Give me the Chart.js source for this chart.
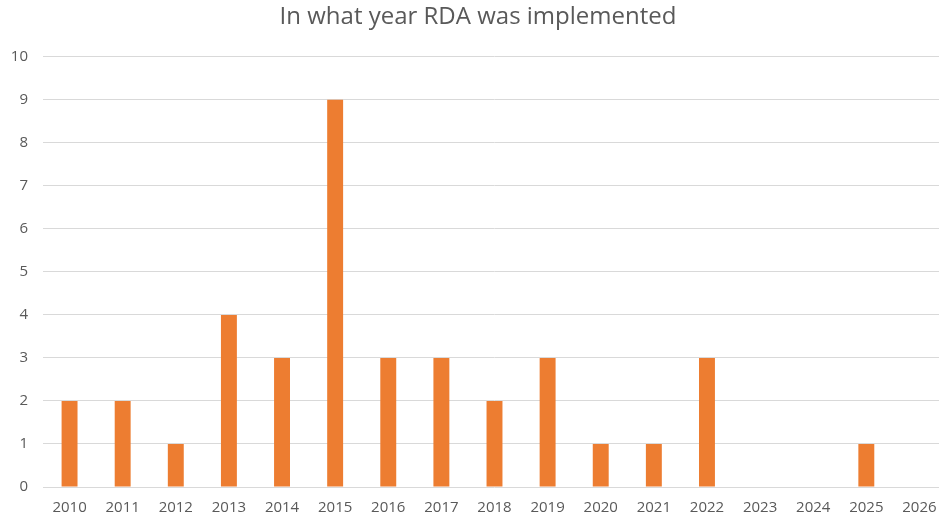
<!DOCTYPE html>
<html>
<head>
<meta charset="utf-8">
<script src="https://cdn.jsdelivr.net/npm/chart.js@4/dist/chart.umd.min.js"></script>
<style>
  html, body { margin: 0; padding: 0; background: #fff; overflow: hidden; }
</style>
</head>
<body>
<canvas id="barChart" width="970" height="521"></canvas>
<script>
const years = ['2010', '2011', '2012', '2013', '2014', '2015', '2016', '2017', '2018',
  '2019', '2020', '2021', '2022', '2023', '2024', '2025', '2026'];
const counts = [2, 2, 1, 4, 3, 9, 3, 3, 2, 3, 1, 1, 3, 0, 0, 1, 0];
const yMax = 10;

const textColor = '#595959';
const fontFamily = "'Open Sans', 'Liberation Sans', sans-serif";

const ctx = document.getElementById('barChart').getContext('2d');
new Chart(ctx, {
  type: 'bar',
  data: {
    labels: years,
    datasets: [{
      label: 'Count',
      data: counts,
      backgroundColor: '#ED7D31',
      barPercentage: 0.3,
      categoryPercentage: 1
    }]
  },
  options: {
    responsive: false,
    animation: false,
    layout: { padding: { left: 10, right: 24, top: 0, bottom: 0 } },
    plugins: {
      legend: { display: false },
      tooltip: { enabled: false },
      title: {
        display: true,
        text: 'In what year RDA was implemented',
        color: textColor,
        font: { family: fontFamily, size: 24, weight: 'normal' },
        padding: { top: 3, bottom: 25 }
      }
    },
    scales: {
      x: {
        grid: { display: false },
        border: { display: false },
        ticks: {
          color: textColor,
          font: { family: fontFamily, size: 15 },
          padding: 4,
          maxRotation: 0,
          autoSkip: false
        },
        afterFit(scale) { scale.height = 34; }
      },
      y: {
        min: 0,
        max: yMax,
        grid: { color: '#d9d9d9', lineWidth: 1, drawTicks: false },
        border: { display: false },
        ticks: {
          stepSize: 1,
          color: textColor,
          font: { family: fontFamily, size: 15 },
          padding: 15
        },
        afterFit(scale) { scale.width = 33; }
      }
    }
  }
});
</script>
</body>
</html>
